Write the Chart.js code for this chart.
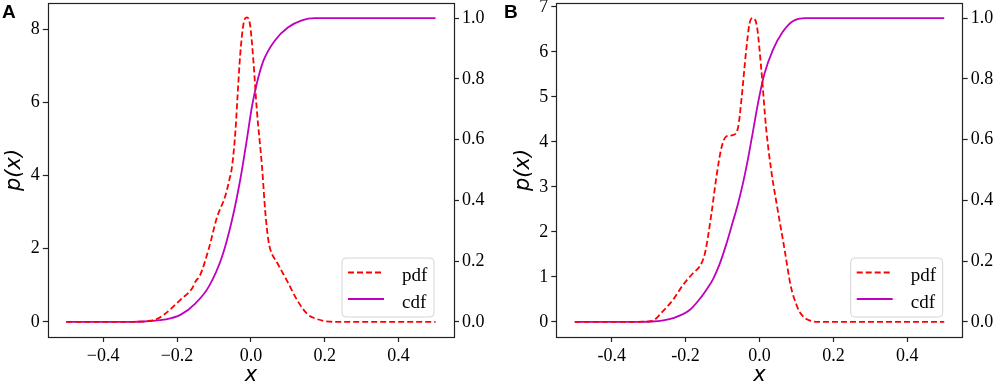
<!DOCTYPE html>
<html>
<head>
<meta charset="utf-8">
<script src="https://cdn.jsdelivr.net/npm/chart.js@4/dist/chart.umd.min.js"></script>
<style>
  body { margin: 0; background: #fff; }
  #lienzo { position: relative; width: 996px; height: 385px; overflow: hidden; }
  .panel { position: absolute; top: 0; width: 498px; height: 385px; }
  .letra { position: absolute; top: 2px; font: bold 19px "Liberation Sans", Arial, sans-serif; line-height: 1; color: #000; }
</style>
</head>
<body>
<div id="lienzo">
  <div class="panel" style="left:0"><canvas id="graficoA"></canvas></div>
  <div class="panel" style="left:498px"><canvas id="graficoB"></canvas></div>
  <div class="letra" style="left:2px">A</div>
  <div class="letra" style="left:504px">B</div>
</div>
<script>
// ticks
const xTicks = [-0.4, -0.2, 0.0, 0.2, 0.4];
const cdfTicks = [0.0, 0.2, 0.4, 0.6, 0.8, 1.0];
const pdfTicksA = [0, 2, 4, 6, 8];
const pdfTicksB = [0, 1, 2, 3, 4, 5, 6, 7];

// panel A
const pdfXA = [-0.5, -0.32, -0.3, -0.285, -0.272, -0.254, -0.236, -0.191, -0.159, -0.150, -0.137, -0.114, -0.092, -0.069, -0.058, -0.051, -0.042, -0.036, -0.029, -0.020, -0.011, -0.002, 0.007, 0.016, 0.030, 0.039, 0.047, 0.052, 0.072, 0.099, 0.126, 0.153, 0.175, 0.200, 0.23, 0.5];
const pdfYA = [0, 0, 0.003, 0.01, 0.03, 0.08, 0.19, 0.60, 0.92, 1.10, 1.29, 2.00, 2.85, 3.45, 3.90, 4.25, 5.20, 6.20, 7.30, 8.15, 8.32, 8.10, 7.10, 5.80, 4.25, 3.00, 2.25, 2.00, 1.60, 1.10, 0.58, 0.21, 0.09, 0.02, 0, 0];
const cdfXA = [-0.5, -0.32, -0.29, -0.265, -0.236, -0.191, -0.150, -0.114, -0.078, -0.051, -0.029, -0.011, 0.003, 0.016, 0.034, 0.064, 0.101, 0.138, 0.173, 0.5];
const cdfYA = [0, 0, 0.001, 0.003, 0.007, 0.023, 0.061, 0.116, 0.215, 0.336, 0.467, 0.600, 0.710, 0.785, 0.860, 0.925, 0.970, 0.993, 1.0, 1.0];

// panel B
const pdfXB = [-0.5, -0.33, -0.31, -0.295, -0.285, -0.27, -0.234, -0.207, -0.18, -0.162, -0.150, -0.144, -0.130, -0.117, -0.103, -0.090, -0.072, -0.058, -0.049, -0.036, -0.027, -0.018, -0.007, 0.005, 0.018, 0.032, 0.049, 0.067, 0.085, 0.100, 0.108, 0.122, 0.135, 0.16, 0.5];
const pdfYB = [0, 0, 0.004, 0.015, 0.04, 0.16, 0.49, 0.82, 1.08, 1.23, 1.45, 1.67, 2.41, 3.20, 3.87, 4.12, 4.15, 4.32, 4.93, 6.04, 6.63, 6.75, 6.57, 5.60, 4.30, 3.35, 2.50, 1.65, 0.78, 0.38, 0.23, 0.09, 0.03, 0, 0];
const cdfXB = [-0.5, -0.33, -0.29, -0.26, -0.234, -0.189, -0.162, -0.144, -0.126, -0.108, -0.090, -0.072, -0.058, -0.045, -0.033, -0.018, -0.004, 0.013, 0.036, 0.063, 0.090, 0.126, 0.5];
const cdfYB = [0, 0, 0.001, 0.005, 0.012, 0.039, 0.075, 0.105, 0.140, 0.190, 0.255, 0.330, 0.390, 0.455, 0.525, 0.625, 0.720, 0.815, 0.895, 0.955, 0.990, 1.0, 1.0];

function pts(xs, ys) {
  return xs.map((x, i) => ({ x: x, y: ys[i] }));
}

const fuenteTick = { family: '"Liberation Serif", "Times New Roman", serif', size: 18 };
const fuenteTitulo = { family: '"DejaVu Sans", sans-serif', size: 21, style: 'italic' };

// frame round the plot area
const marco = {
  id: 'marco',
  afterDraw(chart) {
    const { ctx, chartArea: a } = chart;
    ctx.save();
    ctx.strokeStyle = '#222';
    ctx.lineWidth = 1.2;
    ctx.strokeRect(Math.round(a.left) + 0.5, Math.round(a.top) + 0.5, Math.round(a.right - a.left), Math.round(a.bottom - a.top));
    ctx.restore();
  }
};

// legend in lower right corner, like matplotlib
const leyenda = {
  id: 'leyenda',
  afterDraw(chart) {
    const { ctx, chartArea: a } = chart;
    const w = 92, h = 59;
    const x = a.right - 20 - w, y = a.bottom - 20 - h;
    ctx.save();
    ctx.beginPath();
    ctx.roundRect(x, y, w, h, 4);
    ctx.fillStyle = 'rgba(255,255,255,0.8)';
    ctx.fill();
    ctx.strokeStyle = '#d5d5d5';
    ctx.lineWidth = 1;
    ctx.stroke();
    chart.data.datasets.forEach((ds, i) => {
      const ly = y + 14.5 + i * 26.5;
      ctx.beginPath();
      ctx.setLineDash(ds.borderDash || []);
      ctx.strokeStyle = ds.borderColor;
      ctx.lineWidth = ds.borderWidth;
      ctx.moveTo(x + 6, ly);
      ctx.lineTo(x + 42, ly);
      ctx.stroke();
      ctx.setLineDash([]);
      ctx.fillStyle = '#000';
      ctx.font = '19px "Liberation Serif", serif';
      ctx.textBaseline = 'alphabetic';
      ctx.fillText(ds.label, x + 60, ly + 8.5);
    });
    ctx.restore();
  }
};

function sinRelleno(s) {
  s.paddingTop = 0;
  s.paddingBottom = 0;
  s.paddingLeft = 0;
  s.paddingRight = 0;
}

function ejeComun(extra) {
  return Object.assign({
    type: 'linear',
    border: { display: false },
    grid: { display: true, drawOnChartArea: false, drawTicks: true, tickLength: 5, tickColor: '#222', tickWidth: 1.2 }
  }, extra);
}

function crearPanel(id, pdfX, pdfY, cdfX, cdfY, pdfTicks, pdfMax, menos, padIzq, anchoDer) {
  const ctx = document.getElementById(id).getContext('2d');
  new Chart(ctx, {
    type: 'line',
    data: {
      datasets: [{
        label: 'pdf',
        data: pts(pdfX, pdfY),
        yAxisID: 'y',
        borderColor: '#ff0000',
        borderWidth: 1.8,
        borderDash: [6, 3],
        pointRadius: 0,
        cubicInterpolationMode: 'monotone',
        fill: false
      }, {
        label: 'cdf',
        data: pts(cdfX, cdfY),
        yAxisID: 'y1',
        borderColor: '#bf00bf',
        borderWidth: 1.8,
        pointRadius: 0,
        cubicInterpolationMode: 'monotone',
        fill: false
      }]
    },
    options: {
      responsive: true,
      maintainAspectRatio: false,
      animation: false,
      events: [],
      layout: { padding: { left: padIzq, right: 0, top: 3, bottom: 0 } },
      plugins: { legend: { display: false }, tooltip: { enabled: false } },
      scales: {
        x: ejeComun({
          position: 'bottom',
          min: -0.55,
          max: 0.55,
          afterBuildTicks: (s) => { s.ticks = xTicks.map(v => ({ value: v })); },
          afterFit: (s) => { s.height = 48; sinRelleno(s); },
          ticks: {
            font: fuenteTick, color: '#000', padding: 3,
            callback: (v) => (v < -1e-9 ? menos + Math.abs(v).toFixed(1) : Math.abs(v).toFixed(1))
          },
          title: { display: true, text: 'x', font: fuenteTitulo, color: '#000', padding: { top: 0, bottom: -3 } }
        }),
        y: ejeComun({
          position: 'left',
          min: -0.05 * pdfMax,
          max: 1.05 * pdfMax,
          afterBuildTicks: (s) => { s.ticks = pdfTicks.map(v => ({ value: v })); },
          afterFit: (s) => { s.width = 47.8; sinRelleno(s); },
          ticks: { font: fuenteTick, color: '#000', padding: 3, callback: (v) => String(v) },
          title: { display: true, text: 'p(x)', font: fuenteTitulo, color: '#000', padding: { top: 2.2, bottom: 0 } }
        }),
        y1: ejeComun({
          position: 'right',
          min: -0.05,
          max: 1.05,
          afterBuildTicks: (s) => { s.ticks = cdfTicks.map(v => ({ value: v })); },
          afterFit: (s) => { s.width = anchoDer; sinRelleno(s); },
          ticks: { font: fuenteTick, color: '#000', padding: 3, callback: (v) => v.toFixed(1) }
        })
      }
    },
    plugins: [marco, leyenda]
  });
}

crearPanel('graficoA', pdfXA, pdfYA, cdfXA, cdfYA, pdfTicksA, 8.3, '\u2212', 0, 44);
crearPanel('graficoB', pdfXB, pdfYB, cdfXB, cdfYB, pdfTicksB, 6.75, '-', 10.5, 33.3);
</script>
</body>
</html>
